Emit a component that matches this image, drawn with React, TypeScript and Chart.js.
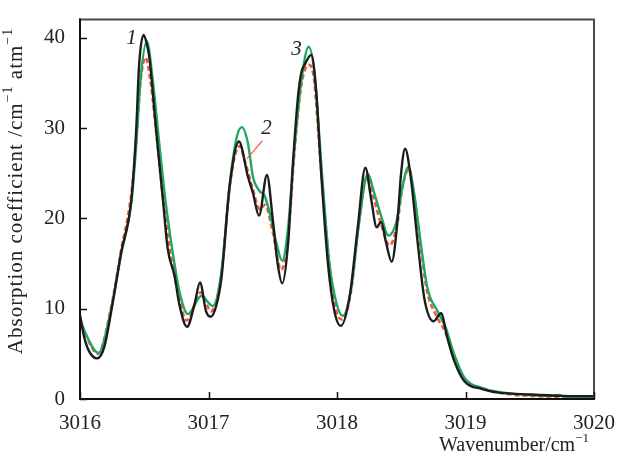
import React, { useEffect, useRef } from "react";
import { Chart, registerables } from "chart.js";

Chart.register(...registerables);

// ---- data ----
const xTickValues = [3016, 3017, 3018, 3019, 3020];
const yTickValues = [0, 10, 20, 30, 40];

// curve 1 (black)
const wnCurve1 = [
  3016.0, 3016.03, 3016.07, 3016.134, 3016.19, 3016.243, 3016.32, 3016.4, 3016.437, 3016.46,
  3016.495, 3016.52, 3016.54, 3016.593, 3016.645, 3016.683, 3016.735, 3016.774, 3016.833, 3016.89,
  3016.934, 3016.981, 3017.017, 3017.06, 3017.1, 3017.165, 3017.237, 3017.307, 3017.346, 3017.393,
  3017.455, 3017.5, 3017.54, 3017.574, 3017.618, 3017.657, 3017.696, 3017.722, 3017.748, 3017.8,
  3017.838, 3017.877, 3017.929, 3017.98, 3018.03, 3018.1, 3018.16, 3018.221, 3018.266, 3018.309,
  3018.343, 3018.382, 3018.426, 3018.472, 3018.499, 3018.53, 3018.576, 3018.628, 3018.68, 3018.752,
  3018.809, 3018.86, 3018.913, 3018.99, 3019.13, 3019.26, 3019.5, 3019.75, 3020.0,
];
const absCurve1 = [
  9.3, 7.0, 5.3, 4.5, 5.8, 9.7, 16.2, 22.1, 29.7, 37.0,
  40.3, 39.3, 37.8, 29.7, 22.1, 16.6, 13.7, 10.4, 8.0, 10.4,
  12.9, 9.7, 9.1, 10.3, 13.3, 23.6, 28.5, 24.6, 22.8, 20.3,
  24.8, 19.9, 14.8, 12.8, 17.0, 26.1, 33.4, 36.1, 37.0, 38.1,
  34.1, 25.0, 15.1, 9.7, 8.1, 11.5, 18.8, 25.6, 22.1, 19.0,
  19.6, 17.3, 15.2, 19.9, 25.0, 27.7, 24.3, 17.3, 11.1, 8.6,
  9.5, 6.7, 4.2, 2.0, 1.1, 0.7, 0.5, 0.35, 0.3,
];

// curve 3 (green)
const wnCurve3 = [
  3016.0, 3016.036, 3016.145, 3016.243, 3016.32, 3016.4, 3016.437, 3016.47, 3016.52, 3016.567,
  3016.619, 3016.67, 3016.722, 3016.774, 3016.84, 3016.944, 3017.033, 3017.1, 3017.165, 3017.22,
  3017.26, 3017.307, 3017.346, 3017.398, 3017.437, 3017.476, 3017.528, 3017.574, 3017.618, 3017.67,
  3017.722, 3017.78, 3017.825, 3017.877, 3017.94, 3018.0, 3018.045, 3018.11, 3018.175, 3018.24,
  3018.29, 3018.343, 3018.4, 3018.46, 3018.51, 3018.555, 3018.6, 3018.654, 3018.705, 3018.783,
  3018.848, 3018.913, 3018.99, 3019.13, 3019.3, 3019.5, 3019.65, 3019.72, 3019.8, 3020.0,
];
const absCurve3 = [
  8.8, 7.5, 5.1, 10.0, 16.0, 21.8, 28.0, 35.2, 39.6, 35.2,
  28.0, 21.4, 16.2, 11.9, 9.4, 11.4, 10.3, 14.0, 23.8, 29.0,
  30.1, 28.3, 24.6, 23.0, 22.5, 20.6, 17.3, 15.3, 18.8, 27.9,
  35.2, 39.0, 36.0, 26.1, 15.1, 10.4, 9.2, 12.2, 19.9, 24.9,
  22.8, 20.3, 18.1, 19.5, 23.5, 25.7, 22.8, 17.0, 12.2, 9.7,
  7.8, 4.9, 2.4, 1.2, 0.7, 0.45, 0.35, 0.45, 0.15, 0.25,
];

// curve 2 (red dashed)
const wnCurve2 = [
  3016.0, 3016.04, 3016.14, 3016.24, 3016.32, 3016.4, 3016.44, 3016.47, 3016.51, 3016.55,
  3016.6, 3016.65, 3016.7, 3016.76, 3016.83, 3016.94, 3017.02, 3017.1, 3017.165, 3017.24,
  3017.29, 3017.34, 3017.4, 3017.44, 3017.5, 3017.565, 3017.62, 3017.67, 3017.72, 3017.78,
  3017.82, 3017.87, 3017.94, 3017.99, 3018.04, 3018.11, 3018.17, 3018.23, 3018.28, 3018.34,
  3018.41, 3018.47, 3018.51, 3018.56, 3018.6, 3018.65, 3018.7, 3018.77, 3018.84, 3018.91,
  3018.99, 3019.13, 3019.3, 3019.5, 3020.0,
];
const absCurve2 = [
  9.0, 7.3, 5.0, 10.0, 16.5, 22.8, 29.0, 35.0, 37.8, 35.0,
  28.5, 21.8, 16.5, 12.0, 8.7, 11.8, 9.7, 13.8, 23.5, 28.0,
  26.0, 23.5, 21.0, 21.5, 18.5, 14.3, 18.0, 27.5, 34.5, 37.0,
  35.5, 26.5, 15.0, 10.0, 8.8, 12.0, 19.5, 24.5, 22.5, 19.5,
  17.0, 19.5, 23.5, 25.5, 22.5, 17.0, 12.0, 9.3, 7.5, 4.8,
  2.2, 1.2, 0.6, 0.35, 0.2,
];

// curve labels (data coordinates)
const curveLabels = ["1", "2", "3"];
const labelX = [3016.4, 3017.452, 3017.685];
const labelY = [39.9, 29.9, 38.7];
const leaderX = [3017.42, 3017.3];
const leaderY = [28.6, 26.6];

const FONT = '"Liberation Serif", "Times New Roman", serif';

function pts(xs: number[], ys: number[]) {
  return xs.map((x, i) => ({ x, y: ys[i] }));
}

function drawRich(
  ctx: CanvasRenderingContext2D,
  parts: { t: string; sup?: boolean }[],
  x: number,
  y: number,
  align: "center" | "right",
  size: number
) {
  const main = `${size}px ${FONT}`;
  const sup = `${Math.round(size * 0.65)}px ${FONT}`;
  let total = 0;
  const widths = parts.map((p) => {
    ctx.font = p.sup ? sup : main;
    const w = ctx.measureText(p.t).width;
    total += w;
    return w;
  });
  let cx = align === "center" ? x - total / 2 : x - total;
  ctx.textAlign = "left";
  ctx.textBaseline = "middle";
  parts.forEach((p, i) => {
    ctx.font = p.sup ? sup : main;
    ctx.fillText(p.t, cx, p.sup ? y - size * 0.36 : y);
    cx += widths[i];
  });
}

const decorPlugin = {
  id: "decor",
  afterDatasetsDraw(chart: any) {
    const { ctx, chartArea, scales } = chart;
    const { left, right, top, bottom } = chartArea;
    const xs = scales.x;
    const ys = scales.y;
    ctx.save();
    // frame
    ctx.lineCap = "square";
    ctx.strokeStyle = "#4a4a4a";
    ctx.lineWidth = 2;
    ctx.beginPath();
    ctx.moveTo(left, top);
    ctx.lineTo(right, top);
    ctx.lineTo(right, bottom);
    ctx.stroke();
    ctx.strokeStyle = "#111";
    ctx.beginPath();
    ctx.moveTo(left, top);
    ctx.lineTo(left, bottom);
    ctx.lineTo(right, bottom);
    ctx.stroke();
    // inward ticks
    ctx.lineWidth = 1.5;
    ctx.lineCap = "butt";
    xTickValues.forEach((v) => {
      const px = Math.round(xs.getPixelForValue(v)) + 0.5;
      ctx.beginPath();
      ctx.moveTo(px, bottom);
      ctx.lineTo(px, bottom - 7);
      ctx.stroke();
    });
    yTickValues.forEach((v) => {
      const py = Math.round(ys.getPixelForValue(v)) + 0.5;
      ctx.beginPath();
      ctx.moveTo(left, py);
      ctx.lineTo(left + 7, py);
      ctx.stroke();
    });
    // curve labels
    ctx.fillStyle = "#222";
    ctx.font = `italic 21px ${FONT}`;
    ctx.textAlign = "center";
    ctx.textBaseline = "middle";
    curveLabels.forEach((t, i) => {
      ctx.fillText(t, xs.getPixelForValue(labelX[i]), ys.getPixelForValue(labelY[i]));
    });
    ctx.strokeStyle = "#f0583a";
    ctx.lineWidth = 1.2;
    ctx.beginPath();
    ctx.moveTo(xs.getPixelForValue(leaderX[0]), ys.getPixelForValue(leaderY[0]));
    ctx.lineTo(xs.getPixelForValue(leaderX[1]), ys.getPixelForValue(leaderY[1]));
    ctx.stroke();
    // axis titles
    ctx.fillStyle = "#222";
    drawRich(ctx, [{ t: "Wavenumber/cm" }, { t: "−1", sup: true }], 589, 446, "right", 20);
    ctx.translate(16, 191);
    ctx.rotate(-Math.PI / 2);
    (ctx as any).letterSpacing = "1px";
    drawRich(
      ctx,
      [
        { t: "Absorption coefficient /cm" },
        { t: "−1", sup: true },
        { t: " atm" },
        { t: "−1", sup: true },
      ],
      0,
      0,
      "center",
      21
    );
    (ctx as any).letterSpacing = "0px";
    ctx.restore();
  },
};

export default function App() {
  const ref = useRef<HTMLCanvasElement | null>(null);
  useEffect(() => {
    if (!ref.current) return;
    const chart = new Chart(ref.current, {
      type: "line",
      data: {
        datasets: [
          {
            label: "1",
            data: pts(wnCurve1, absCurve1),
            borderColor: "#1c1c1c",
            borderWidth: 2.4,
            pointRadius: 0,
            cubicInterpolationMode: "monotone",
          },
          {
            label: "3",
            data: pts(wnCurve3, absCurve3),
            borderColor: "#1fa862",
            borderWidth: 2.4,
            pointRadius: 0,
            cubicInterpolationMode: "monotone",
          },
          {
            label: "2",
            data: pts(wnCurve2, absCurve2),
            borderColor: "#f0583a",
            borderWidth: 2.6,
            borderDash: [5, 3],
            pointRadius: 0,
            cubicInterpolationMode: "monotone",
          },
        ],
      },
      options: {
        responsive: false,
        animation: false,
        devicePixelRatio: 1,
        layout: { padding: { left: 0, right: 24, top: 15, bottom: 0 } },
        plugins: { legend: { display: false }, tooltip: { enabled: false } },
        scales: {
          x: {
            type: "linear",
            min: 3016,
            max: 3020,
            grid: { display: false },
            border: { display: false },
            afterFit: (s: any) => {
              s.height = 57;
            },
            afterBuildTicks: (s: any) => {
              s.ticks = xTickValues.map((v) => ({ value: v }));
            },
            ticks: {
              padding: 4,
              color: "#222",
              font: { family: FONT, size: 21 },
              callback: (v: any) => String(v),
            },
          },
          y: {
            type: "linear",
            min: 0,
            max: 42,
            grid: { display: false },
            border: { display: false },
            afterFit: (s: any) => {
              s.width = 80;
            },
            afterBuildTicks: (s: any) => {
              s.ticks = yTickValues.map((v) => ({ value: v }));
            },
            ticks: {
              padding: 7,
              color: "#222",
              font: { family: FONT, size: 21 },
              callback: (v: any) => String(v),
            },
          },
        },
      },
      plugins: [decorPlugin],
    } as any);
    return () => chart.destroy();
  }, []);
  return (
    <div style={{ position: "fixed", left: 0, top: 0, width: 619, height: 456, background: "#fff" }}>
      <canvas ref={ref} width={619} height={456} style={{ display: "block" }} />
    </div>
  );
}
